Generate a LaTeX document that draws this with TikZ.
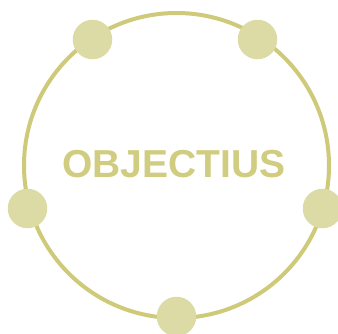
\documentclass[tikz,border=0pt]{standalone}
\usepackage{fontspec}
\newfontfamily\titlefont{Liberation Sans}
\usepackage{tikz}
\usetikzlibrary{positioning}
\definecolor{ringcol}{RGB}{206,202,122}
\definecolor{dotcol}{RGB}{220,219,165}
\definecolor{textcol}{RGB}{208,204,128}

\begin{document}
\begin{tikzpicture}[
  x=1pt, y=-1pt,
  ring/.style={circle, draw=ringcol, line width=4pt, minimum size=305pt, inner sep=0pt, outer sep=0pt},
  dot/.style={circle, fill=dotcol, minimum size=39.5pt, inner sep=0pt},
  title/.style={font=\titlefont\bfseries\fontsize{39}{39}\selectfont, text=textcol, inner sep=0pt}
]
\useasboundingbox (0,0) rectangle (338,333);

\node[ring] at (176.5,165.5) (ring) {};

% dots sit on the ring
\foreach \dx/\dy/\nm in {0/151/bot, 146/43/rgt, 81/-126/tr, -84/-126/tl, -149/43/lft}
  \node[dot] at ([shift={(\dx,\dy)}]ring.center) (dot\nm) {};

\node[title, xshift=-2.5pt, yshift=1.5pt] at (ring.center) (goal) {OBJECTIUS};
\end{tikzpicture}
\end{document}
